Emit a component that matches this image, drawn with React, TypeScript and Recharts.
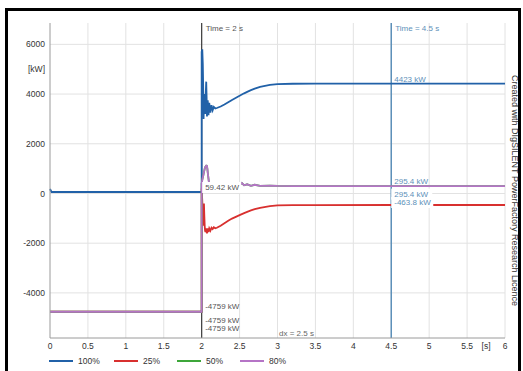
import React from 'react';
import {
  LineChart,
  Line,
  XAxis,
  YAxis,
  CartesianGrid,
  ReferenceLine,
  ReferenceDot,
  Legend,
} from 'recharts';

// time axis [s]; t = 2 appears twice so the step at the event is vertical
const time = [
  0, 0.02, 0.05, 2, 2, 2.008, 2.015, 2.02, 2.025, 2.03, 2.035, 2.04, 2.045, 2.05, 2.06, 2.065,
  2.07, 2.075, 2.08, 2.09, 2.1, 2.115, 2.13, 2.145, 2.16, 2.18, 2.2, 2.25, 2.3, 2.35, 2.4, 2.5,
  2.53, 2.56, 2.6, 2.65, 2.7, 2.77, 2.9, 3.0, 3.2, 3.5, 4.5, 6,
];

// active power [kW]
const pct100 = [
  180, 59.42, 59.42, 59.42, 5700, 5800, 5200, 4300, 3000, 3500, 4000, 3600, 3200, 3700, 4500, 3900,
  3100, 3500, 3750, 3150, 3650, 3250, 3550, 3350, 3480, 3420, 3440, 3500, 3580, 3670, 3760, 3930,
  3980, 4030, 4090, 4160, 4220, 4290, 4370, 4400, 4415, 4421, 4423, 4423,
];
const pct25 = [
  -4759, -4759, -4759, -4759, 200, -300, -900, -1300, -1100, -400, -900, -1300, -1500, -1550, -1400, -1550,
  -1600, -1500, -1400, -1550, -1400, -1500, -1380, -1430, -1360, -1400, -1380, -1300, -1200, -1100, -1010, -870,
  -830, -790, -740, -680, -630, -575, -510, -480, -470, -466, -463.8, -463.8,
];
const pct50 = [
  -4759, -4759, -4759, -4759, 400, 550, 650, 700, 780, 850, 920, 1000, 1050, 1080, 1120, 1120,
  1100, 1000, 850, 600, 350, 180, 200, 250, 290, 330, 350, 330, 300, 330, 360, 340,
  420, 330, 370, 310, 350, 310, 320, 305, 300, 297, 295.4, 295.4,
];
const pct80 = [
  -4759, -4759, -4759, -4759, 400, 550, 650, 700, 780, 850, 920, 1000, 1050, 1080, 1120, 1120,
  1100, 1000, 850, 600, 350, 180, 200, 250, 290, 330, 350, 330, 300, 330, 360, 340,
  420, 330, 370, 310, 350, 310, 320, 305, 300, 297, 295.4, 295.4,
];

const xTicks = [0, 0.5, 1, 1.5, 2, 2.5, 3, 3.5, 4, 4.5, 5, 5.5, 5.75, 6];
const xGrid = [0.5, 1, 1.5, 2, 2.5, 3, 3.5, 4, 4.5, 5, 5.5, 6];
const yTicks = [-4000, -2000, 0, 2000, 4000, 5000, 6000];
const yGrid = [-4000, -2000, 0, 2000, 4000, 6000];

const series = [
  { key: 'p100', name: '100%', color: '#2161a8' },
  { key: 'p25', name: '25%', color: '#d8302f' },
  { key: 'p50', name: '50%', color: '#3da63a' },
  { key: 'p80', name: '80%', color: '#b574c6' },
];

const data = time.map((t, i) => ({
  t,
  p100: pct100[i],
  p25: pct25[i],
  p50: pct50[i],
  p80: pct80[i],
}));

const FONT = '"Liberation Sans", Arial, sans-serif';
const CURSOR_BLUE = '#5d90b9';

function tag(text: string, dx: number, dy: number, color: string, bg?: number, anchor = 'start') {
  return (props: any) => {
    const vb = props.viewBox || {};
    const x = (vb.x ?? 0) + dx;
    const y = (vb.y ?? 0) + dy;
    return (
      <g>
        {bg ? <rect x={x - 3} y={y - 8} width={bg} height={11} fill="#fff" /> : null}
        <text x={x} y={y} fill={color} fontSize={8} fontFamily={FONT} textAnchor={anchor}>
          {text}
        </text>
      </g>
    );
  };
}

function LegendRow() {
  const widths = [65, 63, 63, 63];
  return (
    <div style={{ display: 'flex', alignItems: 'center', fontFamily: FONT, fontSize: 8.5, color: '#333' }}>
      {series.map((s, i) => (
        <div key={s.key} style={{ width: widths[i], display: 'flex', alignItems: 'center' }}>
          <svg width={24} height={4} style={{ marginRight: 5 }}>
            <line x1={0} y1={2} x2={24} y2={2} stroke={s.color} strokeWidth={2} />
          </svg>
          <span>{s.name}</span>
        </div>
      ))}
    </div>
  );
}

export default function App() {
  return (
    <div style={{ position: 'fixed', left: 0, top: 0, width: 523, height: 371, background: '#fff', overflow: 'hidden' }}>
      <LineChart width={523} height={371} data={data} margin={{ top: 23, right: 18, left: 0, bottom: 0 }}>
        <CartesianGrid stroke="#e2e2e2" horizontalValues={yGrid} verticalValues={xGrid} />
        <XAxis
          dataKey="t"
          type="number"
          domain={[0, 6]}
          ticks={xTicks}
          height={33}
          tickLine={false}
          tickSize={0}
          tickMargin={5}
          axisLine={{ stroke: '#9a9a9a' }}
          tick={{ fontSize: 8.5, fill: '#333', fontFamily: FONT }}
          tickFormatter={(v: number) => (v === 5.75 ? '[s]' : String(v))}
        />
        <YAxis
          type="number"
          domain={[-5815, 6860]}
          ticks={yTicks}
          width={50}
          tickLine={false}
          tickSize={0}
          tickMargin={5}
          axisLine={{ stroke: '#9a9a9a' }}
          tick={{ fontSize: 8.5, fill: '#333', fontFamily: FONT }}
          tickFormatter={(v: number) => (v === 5000 ? '[kW]' : String(v))}
        />
        <ReferenceLine x={2} stroke="#3a3a3a" strokeWidth={1.2} label={tag('Time = 2 s', 4, 8, '#555')} />
        <ReferenceLine x={4.5} stroke={CURSOR_BLUE} strokeWidth={1.5} label={tag('Time = 4.5 s', 4, 8, CURSOR_BLUE)} />
        {series.map((s) => (
          <Line
            key={s.key}
            dataKey={s.key}
            name={s.name}
            stroke={s.color}
            strokeWidth={1.8}
            dot={false}
            type="linear"
            isAnimationActive={false}
          />
        ))}
        <ReferenceDot x={4.5} y={4423} r={0} fill="none" stroke="none" label={tag('4423 kW', 3, -1.5, CURSOR_BLUE)} />
        <ReferenceDot x={4.5} y={295.4} r={0} fill="none" stroke="none" label={tag('295.4 kW', 3, -2.5, CURSOR_BLUE)} />
        <ReferenceDot x={4.5} y={295.4} r={0} fill="none" stroke="none" label={tag('295.4 kW', 3, 10.5, CURSOR_BLUE, 41)} />
        <ReferenceDot x={4.5} y={-463.8} r={0} fill="none" stroke="none" label={tag('-463.8 kW', 3, 0, CURSOR_BLUE, 42)} />
        <ReferenceDot x={2} y={59.42} r={0} fill="none" stroke="none" label={tag('59.42 kW', 3.5, -2, '#555', 39)} />
        <ReferenceDot x={2} y={-4759} r={0} fill="none" stroke="none" label={tag('-4759 kW', 3.5, -2.3, '#555')} />
        <ReferenceDot x={2} y={-4759} r={0} fill="none" stroke="none" label={tag('-4759 kW', 3.5, 11, '#555')} />
        <ReferenceDot x={2} y={-4759} r={0} fill="none" stroke="none" label={tag('-4759 kW', 3.5, 19, '#555')} />
        <ReferenceDot x={3.25} y={-5815} r={0} fill="none" stroke="none" label={tag('dx = 2.5 s', 0, -2, '#666', 0, 'middle')} />
        <Legend
          verticalAlign="middle"
          align="center"
          layout="horizontal"
          wrapperStyle={{ top: 356, left: 49, width: 260, height: 14 }}
          content={() => <LegendRow />}
        />
      </LineChart>
      <div
        style={{
          position: 'absolute',
          left: 509,
          top: 75,
          writingMode: 'vertical-rl',
          fontFamily: FONT,
          fontSize: 9,
          lineHeight: '12px',
          color: '#333',
          whiteSpace: 'nowrap',
        }}
      >
        Created with DIgSILENT PowerFactory Research Licence
      </div>
      <div
        style={{
          position: 'absolute',
          left: 5,
          top: 8,
          width: 516,
          height: 380,
          border: '3px solid #000',
          boxSizing: 'border-box',
          pointerEvents: 'none',
        }}
      />
    </div>
  );
}
